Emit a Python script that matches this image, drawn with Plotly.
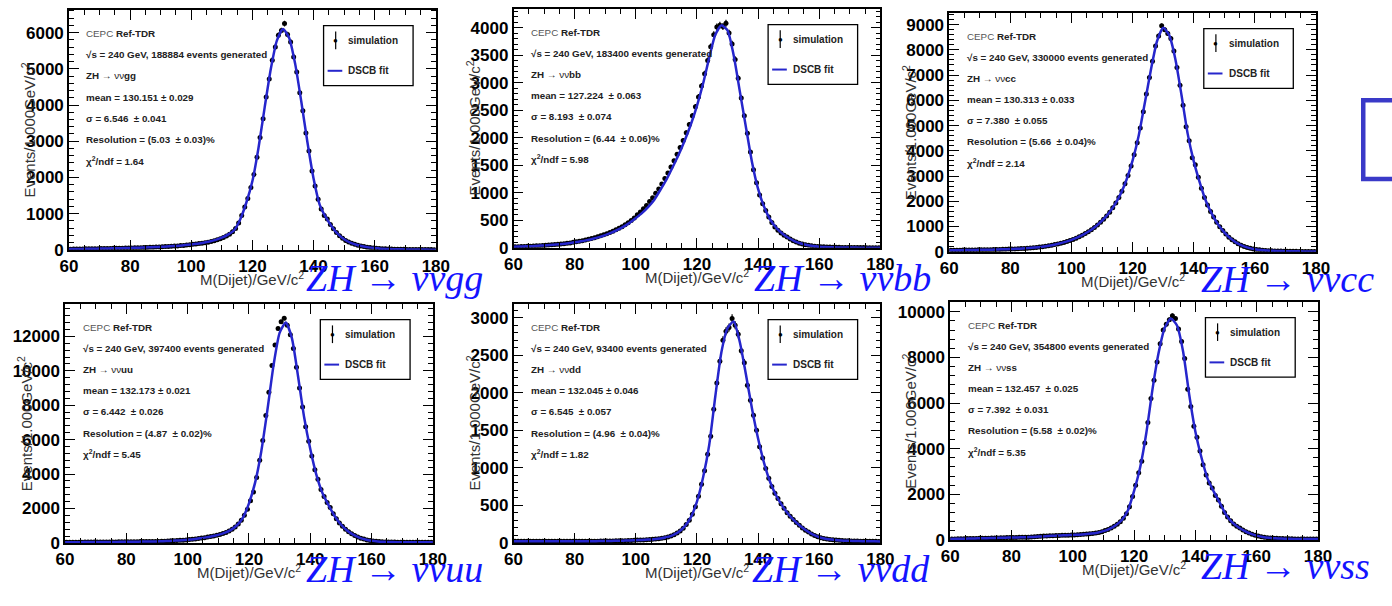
import numpy as np
import plotly.graph_objects as go

W, H = 1392, 606

# ---------------- data ----------------
mass_centers = np.arange(60.5, 180.0, 1.0)      # 1 GeV bins
fit_mass = np.arange(60, 181, 2)                 # fit curve sample points

channels = ["gg", "bb", "cc", "uu", "dd", "ss"]
n_generated = ["188884", "183400", "330000", "397400", "93400", "354800"]
mean_txt = ["130.151 ± 0.029", "127.224  ± 0.063", "130.313 ± 0.033",
            "132.173 ± 0.021", "132.045 ± 0.046", "132.457  ± 0.025"]
sigma_txt = ["6.546  ± 0.041", "8.193  ± 0.074", "7.380  ± 0.055",
             "6.442  ± 0.026", "6.545  ± 0.057", "7.392  ± 0.031"]
resol_txt = ["(5.03  ± 0.03)%", "(6.44  ± 0.06)%", "(5.66  ± 0.04)%",
             "(4.87  ± 0.02)%", "(4.96  ± 0.04)%", "(5.58  ± 0.02)%"]
chi2_txt = ["1.64", "5.98", "2.14", "5.45", "1.82", "5.35"]

data_gg = [18, 20, 22, 21, 25, 26, 27, 30, 29, 32,
           34, 33, 36, 39, 41, 40, 44, 46, 48, 50,
           52, 55, 57, 60, 62, 66, 68, 72, 76, 78,
           84, 88, 93, 98, 104, 108, 116, 122, 131, 140,
           150, 158, 172, 182, 198, 212, 232, 252, 278, 305,
           338, 378, 430, 500, 590, 740, 950, 1180, 1420, 1720,
           2080, 2560, 3100, 3620, 4220, 4720, 5240, 5600, 5930, 6060,
           6250, 5950, 5740, 5330, 4910, 4340, 3840, 3230, 2730, 2180,
           1760, 1400, 1130, 950, 850, 700, 580, 480, 390, 320,
           260, 215, 180, 150, 125, 105, 88, 74, 62, 52,
           45, 38, 32, 28, 24, 21, 18, 16, 14, 12,
           11, 10, 9, 8, 7, 7, 6, 5, 5, 4]
fit_gg = [20, 22, 25, 28, 30, 33, 36, 40, 44, 48,
          52, 57, 62, 68, 75, 83, 92, 102, 115, 130,
          148, 170, 196, 230, 275, 335, 420, 540, 840, 1300,
          1900, 2820, 3930, 4990, 5780, 6100, 5860, 5130, 4090, 2970,
          1970, 1250, 900, 640, 430, 290, 198, 138, 96, 67,
          47, 32, 24, 18, 14, 11, 9, 7, 6, 5,
          4]

data_bb = [20, 22, 24, 26, 28, 30, 33, 36, 40, 44,
           48, 52, 56, 60, 65, 70, 76, 82, 90, 100,
           110, 120, 130, 142, 155, 170, 185, 200, 218, 238,
           258, 280, 302, 330, 356, 385, 420, 455, 495, 540,
           600, 650, 710, 770, 840, 910, 990, 1070, 1160, 1260,
           1360, 1470, 1580, 1700, 1820, 1950, 2090, 2240, 2400, 2560,
           2740, 2940, 3160, 3400, 3650, 3870, 4010, 4040, 4020, 4080,
           3900, 3700, 3420, 3080, 2720, 2400, 2080, 1740, 1420, 1180,
           960, 800, 680, 560, 460, 380, 320, 270, 230, 195,
           160, 130, 105, 85, 70, 56, 46, 38, 31, 26,
           22, 18, 15, 13, 11, 10, 9, 8, 7, 6,
           5, 5, 4, 4, 4, 3, 3, 3, 3, 2]
fit_bb = [20, 23, 27, 31, 37, 44, 52, 60, 70, 84,
          100, 118, 140, 165, 195, 232, 275, 325, 385, 455,
          540, 630, 740, 870, 1050, 1240, 1460, 1690, 1950, 2240,
          2580, 2980, 3450, 3870, 4040, 3950, 3500, 2850, 2200, 1560,
          1070, 740, 510, 360, 255, 178, 118, 78, 52, 34,
          22, 15, 11, 8, 6, 5, 4, 3, 3, 2,
          2]

data_cc = [60, 60, 62, 64, 66, 68, 70, 72, 74, 76,
           78, 80, 82, 84, 86, 90, 94, 98, 102, 106,
           110, 115, 120, 126, 132, 140, 150, 160, 172, 185,
           200, 218, 238, 260, 285, 312, 340, 372, 408, 448,
           490, 540, 595, 655, 720, 790, 870, 960, 1060, 1170,
           1290, 1420, 1570, 1740, 1930, 2150, 2400, 2690, 3020, 3400,
           3840, 4320, 4900, 5550, 6250, 6900, 7550, 8150, 8550, 8950,
           8800, 8650, 8450, 7950, 7300, 6600, 5800, 4950, 4400, 3720,
           3450, 2950, 2520, 2150, 1850, 1600, 1380, 1170, 990, 840,
           700, 580, 480, 395, 320, 260, 210, 170, 138, 112,
           92, 76, 62, 52, 44, 38, 33, 29, 26, 23,
           21, 19, 18, 17, 16, 15, 14, 13, 12, 12]
fit_cc = [59, 61, 65, 69, 73, 77, 81, 85, 92, 100,
          108, 118, 129, 145, 166, 192, 228, 272, 326, 390,
          469, 568, 688, 830, 1010, 1230, 1495, 1835, 2275, 2855,
          3620, 4610, 5900, 7220, 8350, 8870, 8570, 7620, 6200, 4680,
          3580, 2730, 2000, 1480, 1075, 770, 530, 355, 235, 155,
          102, 70, 50, 38, 30, 25, 21, 18, 16, 14,
          13]

data_uu = [40, 40, 42, 42, 44, 44, 46, 46, 48, 48,
           50, 50, 52, 52, 54, 56, 58, 60, 62, 64,
           66, 68, 70, 72, 74, 76, 78, 80, 83, 86,
           88, 95, 102, 110, 118, 127, 137, 148, 160, 174,
           190, 208, 228, 252, 280, 305, 335, 370, 405, 445,
           490, 545, 610, 690, 790, 920, 1100, 1320, 1600, 1950,
           2450, 2950, 3800, 4800, 5950, 7400, 8750, 10300, 11500, 12450,
           12850, 13050, 12650, 12100, 11300, 10200, 9000, 7900, 6750, 5900,
           5050, 4250, 3700, 3100, 2700, 2350, 2050, 1700, 1400, 1160,
           960, 790, 650, 530, 430, 345, 275, 220, 175, 140,
           112, 92, 77, 66, 58, 52, 48, 45, 43, 41,
           38, 37, 36, 35, 34, 33, 32, 31, 30, 30]
fit_uu = [40, 41, 43, 45, 47, 49, 51, 53, 57, 61,
          65, 69, 73, 77, 82, 87, 98, 114, 132, 154,
          182, 218, 265, 320, 388, 468, 578, 740, 1010, 1460,
          2300, 3500, 5300, 7700, 10300, 12200, 12800, 11900, 9700, 7300,
          5450, 3950, 2880, 2180, 1550, 1070, 720, 480, 310, 198,
          126, 85, 62, 50, 44, 40, 37, 35, 33, 31,
          30]

data_dd = [22, 22, 23, 22, 22, 23, 22, 22, 23, 22,
           22, 22, 22, 22, 22, 22, 22, 22, 22, 22,
           22, 22, 22, 22, 22, 22, 23, 23, 24, 24,
           25, 25, 26, 27, 28, 29, 30, 31, 33, 35,
           37, 38, 40, 42, 45, 48, 52, 56, 62, 70,
           80, 92, 110, 132, 158, 195, 245, 300, 380, 480,
           620, 780, 960, 1180, 1420, 1780, 2130, 2420, 2700, 2820,
           2870, 2990, 2900, 2780, 2560, 2400, 2100, 1900, 1700, 1500,
           1280, 1130, 990, 860, 750, 660, 590, 520, 460, 400,
           355, 310, 270, 235, 200, 170, 145, 120, 98, 82,
           70, 60, 52, 46, 41, 37, 34, 31, 29, 27,
           26, 25, 24, 23, 23, 22, 22, 21, 21, 20]
fit_dd = [22, 22, 22, 22, 22, 22, 22, 22, 22, 22,
          22, 22, 22, 23, 24, 25, 26, 28, 30, 32,
          36, 39, 44, 50, 59, 75, 101, 145, 220, 340,
          550, 870, 1300, 1950, 2540, 2860, 2950, 2680, 2250, 1790,
          1390, 1060, 805, 625, 490, 378, 290, 218, 158, 109,
          76, 56, 44, 36, 30, 27, 25, 23, 22, 21,
          20]

data_ss = [40, 45, 48, 52, 55, 58, 62, 65, 68, 70,
           72, 75, 78, 82, 86, 90, 94, 98, 102, 106,
           110, 112, 114, 116, 118, 122, 128, 140, 152, 160,
           168, 174, 180, 186, 190, 195, 200, 205, 210, 215,
           220, 228, 236, 246, 258, 270, 285, 305, 330, 360,
           410, 460, 520, 600, 690, 800, 950, 1150, 1450, 1900,
           2400, 2950, 3450, 4250, 5150, 6200, 7000, 7800, 8600, 9200,
           9450, 9650, 9820, 9700, 9250, 8700, 7950, 6600, 5850, 4980,
           4500, 3900, 3300, 2850, 2500, 2280, 1950, 1750, 1480, 1200,
           1000, 840, 700, 600, 520, 440, 360, 300, 250, 210,
           170, 140, 118, 100, 88, 78, 70, 63, 58, 54,
           50, 47, 45, 43, 41, 40, 39, 38, 37, 36]
fit_ss = [40, 47, 54, 60, 67, 71, 77, 84, 92, 100,
          106, 112, 118, 126, 138, 155, 172, 186, 197, 208,
          218, 232, 252, 278, 318, 385, 490, 645, 875, 1300,
          2150, 3200, 4700, 6600, 8200, 9300, 9700, 9400, 8250, 6350,
          4740, 3600, 2675, 2115, 1615, 1100, 770, 560, 400, 275,
          190, 129, 94, 74, 60, 52, 46, 42, 40, 38,
          36]

data_sets = [data_gg, data_bb, data_cc, data_uu, data_dd, data_ss]
fit_sets = [fit_gg, fit_bb, fit_cc, fit_uu, fit_dd, fit_ss]

# y axis: upper limit and major tick step for each panel
y_upper = [6630, 4340, 9467, 13886, 3184, 10431]
y_major = [1000, 500, 1000, 2000, 500, 2000]

# ---------------- layout (pixel boxes of the six frames) ----------------
boxes = [(61, 434, 10, 254), (513, 886, 9, 252), (956, 1329, 13, 256),
         (57, 431, 309, 552), (513, 886, 309, 552), (957, 1331, 307, 549)]
big_label_pos = [(300, 283), (755, 283), (1210, 284),
                 (300, 579), (753, 579), (1210, 575)]

BLACK = "#000000"
FIT_BLUE = "#2626cc"
LABEL_BLUE = "#1414ff"
SANS = "Liberation Sans, Arial, sans-serif"


def pxx(x):
    return x / W


def pxy(y):
    return 1 - y / H


fig = go.Figure()
annotations = []
shapes = []

for i in range(6):
    k = "" if i == 0 else str(i + 1)
    xa, ya = "x" + k, "y" + k
    left, right, top, bottom = boxes[i]
    vals = np.array(data_sets[i], dtype=float)

    fig.add_trace(go.Scatter(
        x=mass_centers, y=vals, mode="markers", xaxis=xa, yaxis=ya,
        marker=dict(color=BLACK, size=5),
        error_y=dict(type="data", array=np.sqrt(vals), color=BLACK,
                     thickness=1.2, width=0),
        showlegend=False, hoverinfo="skip"))
    fig.add_trace(go.Scatter(
        x=fit_mass, y=fit_sets[i], mode="lines", xaxis=xa, yaxis=ya,
        line=dict(color=FIT_BLUE, width=2.5, shape="spline", smoothing=0.6),
        showlegend=False, hoverinfo="skip"))

    common = dict(showgrid=False, zeroline=False, showline=True,
                  linecolor=BLACK, linewidth=1.5, mirror="allticks",
                  ticks="inside", ticklen=10, tickwidth=1, tickcolor=BLACK,
                  tickformat="d",
                  tickfont=dict(family=SANS, size=17, color=BLACK, weight="bold"))
    fig.update_layout(**{
        ("xaxis" + k): dict(domain=[pxx(left), pxx(right)], anchor=ya,
                            range=[60, 180], tick0=60, dtick=20,
                            minor=dict(ticks="inside", dtick=5, ticklen=5,
                                       tickcolor=BLACK, showgrid=False),
                            **common),
        ("yaxis" + k): dict(domain=[pxy(bottom), pxy(top)], anchor=xa,
                            range=[0, y_upper[i]], tick0=0, dtick=y_major[i],
                            minor=dict(ticks="inside", dtick=y_major[i] / 5,
                                       ticklen=5, tickcolor=BLACK, showgrid=False),
                            **common),
    })

    xd, yd = xa + " domain", ya + " domain"

    # info text block
    lines = [
        "<span style='color:#555'>CEPC</span> <b>Ref-TDR</b>",
        "<b>√s = 240 GeV, %s events generated</b>" % n_generated[i],
        "<b>ZH</b> → νν<b>%s</b>" % channels[i],
        "<b>mean = %s</b>" % mean_txt[i],
        "<b>σ = %s</b>" % sigma_txt[i],
        "<b>Resolution = %s</b>" % resol_txt[i],
        "<b>χ<sup>2</sup>/ndf = %s</b>" % chi2_txt[i],
    ]
    for j, t in enumerate(lines):
        annotations.append(dict(
            text=t, xref=xd, yref=yd, x=0.045, y=0.902 - 0.0885 * j,
            xanchor="left", yanchor="middle", showarrow=False, borderpad=0,
            font=dict(family=SANS, size=9.8, color="#222")))

    # legend box
    shapes.append(dict(type="rect", xref=xd, yref=yd, x0=0.694, x1=0.938,
                       y0=0.684, y1=0.934, line=dict(color=BLACK, width=1.3),
                       fillcolor="rgba(0,0,0,0)"))
    shapes.append(dict(type="line", xref=xd, yref=yd, x0=0.727, x1=0.727,
                       y0=0.836, y1=0.910, line=dict(color=BLACK, width=1.2)))
    annotations.append(dict(text="●", xref=xd, yref=yd, x=0.727, y=0.873,
                            xanchor="center", yanchor="middle", showarrow=False,
                            font=dict(family=SANS, size=8, color=BLACK)))
    annotations.append(dict(text="<b>simulation</b>", xref=xd, yref=yd,
                            x=0.756, y=0.873, xanchor="left", yanchor="middle",
                            showarrow=False,
                            font=dict(family=SANS, size=10, color="#222")))
    shapes.append(dict(type="line", xref=xd, yref=yd, x0=0.705, x1=0.745,
                       y0=0.746, y1=0.746, line=dict(color=FIT_BLUE, width=2)))
    annotations.append(dict(text="<b>DSCB fit</b>", xref=xd, yref=yd,
                            x=0.756, y=0.746, xanchor="left", yanchor="middle",
                            showarrow=False,
                            font=dict(family=SANS, size=10, color="#222")))

    # axis titles
    annotations.append(dict(text="Events/1.000GeV/c<sup>2</sup>", xref="paper",
                            yref=yd, x=pxx(left - 41), y=0.5, textangle=-90,
                            xanchor="center", yanchor="middle", showarrow=False,
                            font=dict(family=SANS, size=15, color="#333")))
    annotations.append(dict(text="M(Dijet)/GeV/c<sup>2</sup>", xref=xd,
                            yref="paper", x=0.5, y=pxy(bottom + 29),
                            xanchor="center", yanchor="middle", showarrow=False,
                            font=dict(family=SANS, size=15, color="#333")))

    # big blue channel label
    bx, by = big_label_pos[i]
    annotations.append(dict(text="ZH → νν" + channels[i], xref="paper",
                            yref="paper", x=pxx(bx), y=pxy(by),
                            xanchor="left", yanchor="middle", showarrow=False,
                            font=dict(family="Liberation Serif, serif",
                                      size=38, color=LABEL_BLUE, style="italic")))

# partial blue frame at the right edge
shapes.append(dict(type="rect", xref="paper", yref="paper",
                   x0=pxx(1377), x1=pxx(1420), y0=pxy(182), y1=pxy(102),
                   line=dict(color="#3a3ac8", width=4.5)))

fig.update_layout(width=W, height=H, margin=dict(l=0, r=0, t=0, b=0),
                  paper_bgcolor="white", plot_bgcolor="white",
                  annotations=annotations, shapes=shapes, showlegend=False)

fig.write_html("out.html")
